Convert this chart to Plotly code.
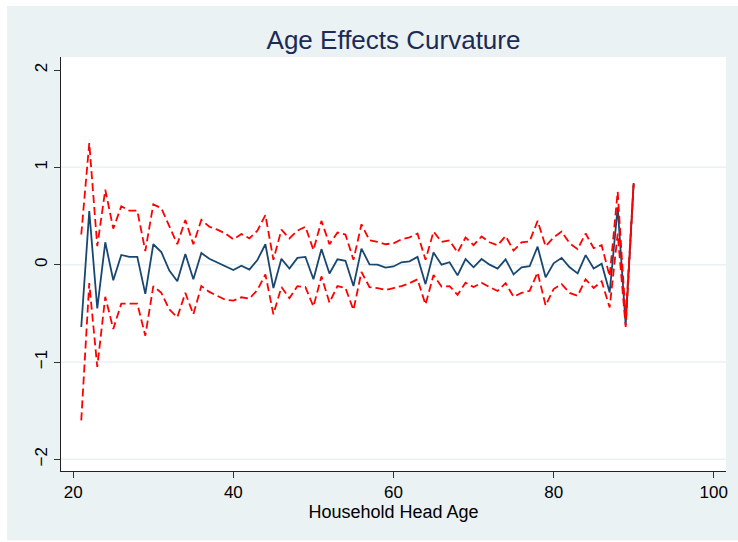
import plotly.graph_objects as go

ages = list(range(21, 91))

effect = [-0.64, 0.55, -0.45, 0.23, -0.16, 0.10, 0.08, 0.08, -0.30, 0.21,
          0.13, -0.06, -0.17, 0.11, -0.15, 0.12, 0.06, 0.02, -0.02, -0.055,
          -0.01, -0.05, 0.048, 0.21, -0.24, 0.06, -0.04, 0.07, 0.08, -0.15,
          0.16, -0.09, 0.055, 0.04, -0.22, 0.165, 0.004, 0.0, -0.03, -0.018,
          0.025, 0.035, 0.08, -0.20, 0.125, 0.0, 0.025, -0.11, 0.058, -0.027,
          0.058, 0.0, -0.04, 0.055, -0.10, -0.027, -0.016, 0.185, -0.13, 0.014,
          0.07, -0.027, -0.09, 0.098, -0.04, 0.01, -0.285, 0.59, -0.62, 0.84]

upper = [0.31, 1.25, 0.19, 0.77, 0.37, 0.60, 0.555, 0.555, 0.14, 0.62,
         0.58, 0.39, 0.21, 0.46, 0.21, 0.46, 0.39, 0.36, 0.32, 0.26,
         0.315, 0.27, 0.35, 0.51, 0.05, 0.36, 0.27, 0.35, 0.39, 0.15,
         0.45, 0.21, 0.33, 0.31, 0.05, 0.415, 0.25, 0.235, 0.21, 0.22,
         0.26, 0.28, 0.32, 0.05, 0.34, 0.235, 0.25, 0.125, 0.28, 0.20,
         0.29, 0.23, 0.20, 0.295, 0.145, 0.23, 0.24, 0.45, 0.19, 0.28,
         0.34, 0.22, 0.16, 0.32, 0.17, 0.20, -0.12, 0.75, -0.55, 0.85]

lower = [-1.60, -0.19, -1.05, -0.33, -0.66, -0.40, -0.40, -0.40, -0.73, -0.22,
         -0.29, -0.46, -0.54, -0.29, -0.51, -0.22, -0.28, -0.32, -0.36, -0.37,
         -0.335, -0.35, -0.26, -0.10, -0.51, -0.23, -0.345, -0.22, -0.23, -0.43,
         -0.12, -0.39, -0.22, -0.24, -0.465, -0.075, -0.23, -0.24, -0.26, -0.24,
         -0.22, -0.19, -0.15, -0.41, -0.106, -0.225, -0.22, -0.31, -0.185, -0.23,
         -0.185, -0.23, -0.27, -0.19, -0.33, -0.29, -0.27, -0.08, -0.42, -0.25,
         -0.20, -0.29, -0.32, -0.15, -0.24, -0.17, -0.44, 0.32, -0.64, 0.83]

x_ticks = [20, 40, 60, 80, 100]
y_ticks = [-2, -1, 0, 1, 2]
grid_levels = [-2, -1, 0, 1]

BG = "#EAF2F3"
FONT = "Liberation Sans, Arial, Helvetica, sans-serif"

fig = go.Figure()
fig.add_trace(go.Scatter(x=ages, y=effect, mode="lines",
                         line=dict(color="#1A476F", width=1.8), showlegend=False))
fig.add_trace(go.Scatter(x=ages, y=upper, mode="lines",
                         line=dict(color="#FF0000", width=1.8, dash="8px,4px"), showlegend=False))
fig.add_trace(go.Scatter(x=ages, y=lower, mode="lines",
                         line=dict(color="#FF0000", width=1.8, dash="8px,4px"), showlegend=False))

# white border strips outside the light graph region
shapes = [
    dict(type="rect", xref="paper", yref="paper", x0=-0.2, x1=-0.081, y0=-0.3, y1=1.3,
         fillcolor="white", line=dict(width=0), layer="below"),
    dict(type="rect", xref="paper", yref="paper", x0=-0.2, x1=1.2, y0=1.123, y1=1.3,
         fillcolor="white", line=dict(width=0), layer="below"),
    dict(type="rect", xref="paper", yref="paper", x0=-0.2, x1=1.2, y0=-0.3, y1=-0.167,
         fillcolor="white", line=dict(width=0), layer="below"),
]
for g in grid_levels:
    shapes.append(dict(type="line", xref="paper", yref="y", x0=0, x1=1, y0=g, y1=g,
                       line=dict(color=BG, width=1.5), layer="below"))

fig.update_layout(
    width=738, height=542,
    margin=dict(l=61, r=10, t=57, b=71),
    paper_bgcolor=BG, plot_bgcolor="white",
    font=dict(family=FONT, color="black", size=17),
    title=dict(text="Age Effects Curvature", x=0.5, xref="paper", xanchor="center",
               y=1 - 40 / 542, yanchor="middle", yref="container",
               font=dict(size=26, color="#1c2a55", family=FONT)),
    shapes=shapes,
    xaxis=dict(range=[18.47, 101.53], tickvals=x_ticks, ticks="outside", ticklen=6,
               tickcolor="#333", showline=True, linecolor="#222", linewidth=1,
               showgrid=False, zeroline=False, tickfont=dict(size=17),
               title=dict(text="Household Head Age", font=dict(size=18), standoff=2)),
    yaxis=dict(range=[-2.12, 2.134], tickvals=y_ticks, ticks="outside", ticklen=6,
               tickcolor="#333", showline=True, linecolor="#222", linewidth=1,
               showgrid=False, zeroline=False, tickangle=-90, tickfont=dict(size=17)),
)

fig.write_html("out.html", config={"displayModeBar": False},
               post_script="document.body.style.margin='0';document.body.style.padding='0';")
